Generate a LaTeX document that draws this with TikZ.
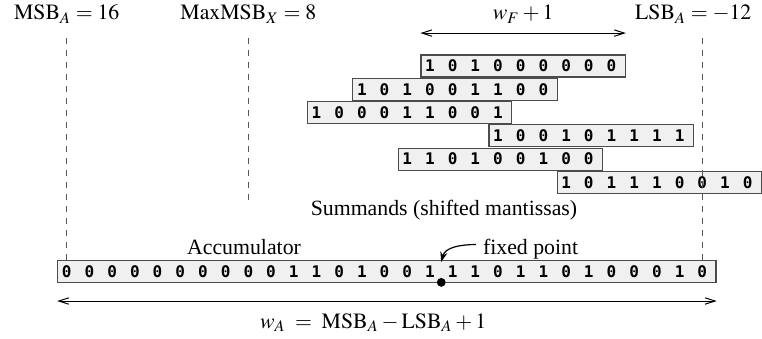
\documentclass[tikz,border=0pt]{standalone}
\usepackage{mathptmx}
\usepackage{fontspec}
\setmainfont{Liberation Serif}
\newfontfamily\bitfont{DejaVu Sans Mono}
\usetikzlibrary{arrows.meta}

\definecolor{boxfill}{gray}{0.94}
\definecolor{boxline}{gray}{0.3}
\definecolor{guideline}{gray}{0.35}

\newcommand\bitw{11.35pt}
% name, first column, row, length, digits
\newcommand\bitrow[5]{
	\node[bitbox, minimum width=#4*\bitw] (#1) at (#2-0.42,#3) {};
	\foreach \d [count=\i from 0] in {#5}
		\node[bit] (#1-\i) at (#2+\i,#3) {\d};
}

\tikzset{
	bitbox/.style={draw=boxline, fill=boxfill, line width=0.6pt, inner sep=0pt,
		minimum height=11pt, anchor=west},
	bit/.style={inner sep=0pt, font=\bitfont\bfseries\fontsize{8}{9}\selectfont},
	guide/.style={draw=guideline, dashed, line width=0.5pt},
	span/.style={{Straight Barb[length=5pt,width=3.2pt]}-{Straight Barb[length=5pt,width=3.2pt]}, line width=0.5pt},
	txt/.style={anchor=base, inner sep=0.5pt},
	pointdot/.style={circle, fill, inner sep=0pt, minimum size=4.4pt},
}

\begin{document}
\begin{tikzpicture}[x=11.35pt, y=-11.65pt, every node/.append style={font=\fontsize{10.9}{13}\selectfont}]
	\useasboundingbox (-2.94,0) rectangle (30.63,14.55);

	% Positions of the bits
	\coordinate (msbcol) at (0,0);
	\coordinate (maxcol) at (8,0);
	\coordinate (lsbcol) at (28,0);
	\node[txt] (msb)    at (0,0.85)  {$\mathrm{MSB}_A = 16$};
	\node[txt] (maxmsb) at (8,0.85)  {$\mathrm{MaxMSB}_X = 8$};
	\node[txt] (lsb)    at (27.6,0.85) {$\mathrm{LSB}_A = -12$};
	\coordinate (guidetop) at (0,1.63);
	\coordinate (guidebot) at (0,8.58);

	% Summands
	\bitrow{row1}{16}{2.83}{9}{1,0,1,0,0,0,0,0,0}
	\bitrow{row2}{13}{3.83}{9}{1,0,1,0,0,1,1,0,0}
	\bitrow{row3}{11}{4.83}{9}{1,0,0,0,1,1,0,0,1}
	\bitrow{row4}{19}{5.83}{9}{1,0,0,1,0,1,1,1,1}
	\bitrow{row5}{15}{6.83}{9}{1,1,0,1,0,0,1,0,0}
	\bitrow{row6}{22}{7.83}{9}{1,0,1,1,1,0,0,1,0}
	\node[txt] (summands) at (16.62,9.27) {Summands (shifted mantissas)};

	\node[txt] (wf) at (row1 |- msb.base) {$w_F + 1$};
	\coordinate (wfline) at (0,1.42);
	\draw[span] (row1.west |- wfline) -- (row1.east |- wfline);

	% Accumulator
	\bitrow{acc}{0}{11.65}{29}{0,0,0,0,0,0,0,0,0,0,1,1,0,1,0,0,1,1,1,0,1,1,0,1,0,0,0,1,0}
	\node[txt] (acclabel) at (7.81,10.94) {Accumulator};

	\draw[guide] (msbcol |- guidetop) -- (msbcol |- acc.north);
	\draw[guide] (maxcol |- guidetop) -- (maxcol |- guidebot);
	\draw[guide] (lsbcol |- guidetop) -- (lsbcol |- acc.north);

	% Fixed point
	\node[pointdot] (fix) at (16.5,12.12) {};
	\node[anchor=base west] (fp) at (18.03,10.94) {fixed point};
	\coordinate (fixtip) at (16.5,11.24);
	\draw[-{Stealth[length=5pt,width=3.6pt]}, line width=0.6pt]
		([yshift=2.5pt]fp.west) to[out=180, in=75] (fixtip);

	\coordinate (waline) at (0,12.92);
	\draw[span] (acc.west |- waline) -- (acc.east |- waline);
	\node[txt] (wa) at (13.5,14.08) {$w_A \;=\; \mathrm{MSB}_A - \mathrm{LSB}_A + 1$};
\end{tikzpicture}
\end{document}
